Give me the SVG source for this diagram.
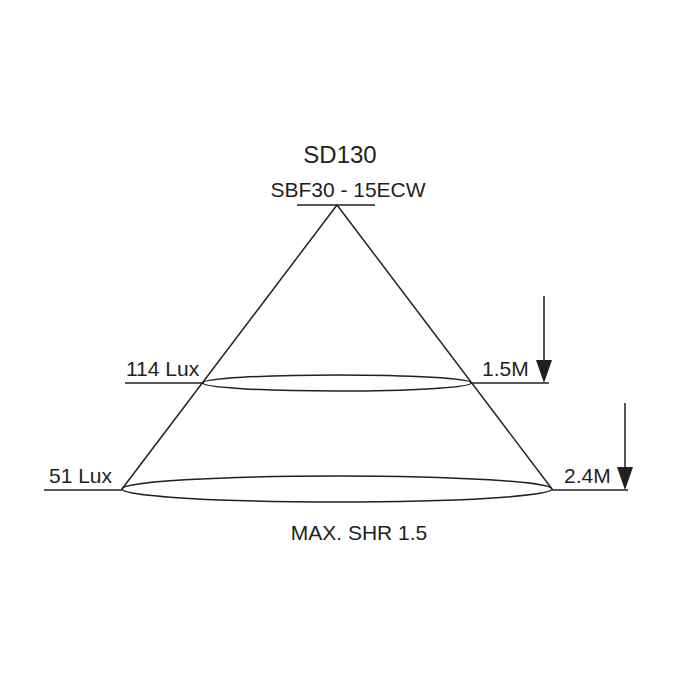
<svg xmlns="http://www.w3.org/2000/svg" width="700" height="700" viewBox="0 0 700 700">
<defs>
<style>
.t{font-family:"Liberation Sans",Arial,sans-serif;fill:#231f20}
.l{stroke:#231f20;stroke-width:1.5;fill:none}
</style>
</defs>
<rect width="700" height="700" fill="#fff"/>
<g id="connectors">
<line class="l" x1="297" y1="205" x2="375" y2="205"/>
<line class="l" x1="337" y1="205" x2="122" y2="489"/>
<line class="l" x1="337" y1="205" x2="552" y2="489"/>
<line class="l" x1="125" y1="383" x2="203" y2="383"/>
<line class="l" x1="471" y1="383" x2="549" y2="383"/>
<line class="l" x1="44" y1="490" x2="122" y2="490"/>
<line class="l" x1="552" y1="490" x2="628" y2="490"/>
<line class="l" x1="544" y1="296" x2="544" y2="360"/>
<path d="M536,360 L552,360 L544,383 Z" fill="#231f20"/>
<line class="l" x1="625" y1="403" x2="625" y2="467"/>
<path d="M617,467 L633,467 L625,490 Z" fill="#231f20"/>
</g>
<g id="ellipse-upper"><ellipse class="l" cx="337" cy="383" rx="134" ry="8"/></g>
<g id="ellipse-lower"><ellipse class="l" cx="337" cy="489" rx="215" ry="13"/></g>
<g id="labels">
<text class="t" x="340" y="163" font-size="24" text-anchor="middle">SD130</text>
<text class="t" x="348" y="197" font-size="21" text-anchor="middle">SBF30 - 15ECW</text>
<text class="t" x="126" y="376" font-size="21">114 Lux</text>
<text class="t" x="482" y="376" font-size="21">1.5M</text>
<text class="t" x="49" y="483" font-size="21">51 Lux</text>
<text class="t" x="564" y="483" font-size="21">2.4M</text>
<text class="t" x="359" y="540" font-size="21" text-anchor="middle">MAX. SHR 1.5</text>
</g>
</svg>
